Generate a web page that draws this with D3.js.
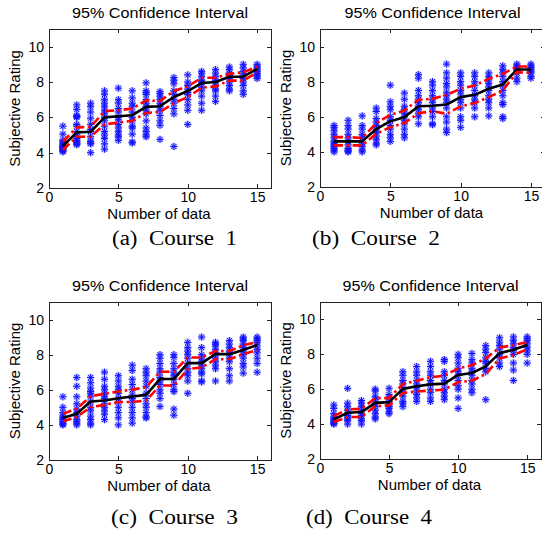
<!DOCTYPE html>
<html>
<head>
<meta charset="utf-8">
<script src="https://cdn.jsdelivr.net/npm/d3@7"></script>
<style>
  html, body { margin: 0; padding: 0; background: #fff; }
  svg { display: block; }
  .sans { font-family: "Liberation Sans", Arial, sans-serif; }
  .serif { font-family: "Liberation Serif", "Times New Roman", serif; white-space: pre; }
</style>
</head>
<body>
<svg id="chart" width="542" height="534"></svg>
<script>
// Number of data points used for each estimate (x axis)
const dataCounts = [1, 2, 3, 4, 5, 6, 7, 8, 9, 10, 11, 12, 13, 14, 15];
const xTicks = [0, 5, 10, 15];
const yTicks = [2, 4, 6, 8, 10];

// Course 1
const course1Mean  = [4.38, 5.15, 5.18, 6.00, 6.06, 6.12, 6.59, 6.63, 7.15, 7.49, 7.94, 8.00, 8.30, 8.30, 8.74];
const course1Upper = [4.62, 5.43, 5.46, 6.35, 6.40, 6.50, 6.96, 6.92, 7.49, 7.75, 8.24, 8.24, 8.46, 8.55, 8.87];
const course1Lower = [4.15, 4.90, 4.90, 5.60, 5.70, 5.80, 6.25, 6.30, 6.80, 7.15, 7.67, 7.75, 8.08, 8.08, 8.55];
const course1Ratings = [
  [5.5, 5.05, 4.7, 4.5, 4.4, 4.3, 4.25, 4.2, 4.15, 4.1, 4.05, 4.35, 4.6],
  [6.7, 6.45, 6.1, 6.0, 5.6, 5.5, 5.2, 5.0, 4.8, 4.6, 4.5, 4.45, 4.55, 4.7, 6.05],
  [6.8, 6.6, 6.3, 5.95, 5.6, 5.3, 5.2, 4.9, 4.65, 4.55, 4.5, 4.0],
  [7.5, 7.3, 7.0, 6.8, 6.6, 6.4, 6.2, 6.0, 5.8, 5.5, 5.2, 5.0, 4.8, 4.5, 4.2],
  [7.65, 7.0, 6.8, 6.5, 6.3, 6.0, 5.85, 5.6, 5.4, 5.2, 5.0, 4.9, 4.7],
  [7.5, 7.1, 6.8, 6.6, 6.3, 6.0, 5.8, 5.5, 5.4, 5.05, 4.55, 4.6],
  [7.95, 7.5, 7.4, 7.3, 7.0, 6.8, 6.6, 6.4, 6.2, 5.8, 5.4, 5.2, 5.0, 4.9],
  [7.45, 7.35, 7.2, 7.0, 6.8, 6.6, 6.4, 6.1, 5.8, 5.55, 4.75],
  [8.25, 8.1, 7.9, 7.5, 7.3, 7.0, 6.8, 6.5, 6.2, 4.35],
  [8.4, 8.0, 7.8, 7.6, 7.4, 7.3, 7.0, 6.7, 6.4, 5.6],
  [8.6, 8.5, 8.3, 8.1, 8.0, 7.9, 7.7, 7.5, 7.2, 6.8, 6.4],
  [8.7, 8.5, 8.3, 8.1, 8.0, 7.8, 7.6, 7.5, 7.2, 6.9],
  [8.85, 8.7, 8.5, 8.4, 8.2, 8.0, 7.8, 7.6, 7.5],
  [9.0, 8.8, 8.6, 8.4, 8.2, 8.0, 7.8, 7.5, 7.3],
  [9.0, 8.9, 8.8, 8.7, 8.6, 8.5, 8.4, 8.3, 8.2]
];

// Course 2
const course2Mean  = [4.60, 4.60, 4.60, 5.30, 5.75, 5.98, 6.60, 6.63, 6.70, 7.12, 7.25, 7.60, 7.84, 8.69, 8.69];
const course2Upper = [4.84, 4.84, 4.79, 5.64, 6.11, 6.36, 6.97, 7.02, 7.25, 7.60, 7.78, 8.16, 8.45, 8.86, 8.86];
const course2Lower = [4.37, 4.37, 4.37, 5.03, 5.41, 5.64, 6.20, 6.32, 6.17, 6.59, 6.78, 7.12, 7.50, 8.54, 8.50];
const course2Ratings = [
  [5.5, 5.4, 5.2, 5.0, 4.8, 4.6, 4.5, 4.4, 4.3, 4.2, 4.1, 4.0],
  [5.8, 5.5, 5.3, 5.0, 4.8, 4.6, 4.4, 4.2, 4.1, 4.05, 4.0],
  [6.05, 5.5, 5.3, 5.0, 4.8, 4.5, 4.3, 4.1, 4.0],
  [6.5, 6.3, 5.9, 5.7, 5.5, 5.3, 5.1, 4.9, 4.7, 4.5, 4.4],
  [7.8, 6.85, 6.6, 6.4, 6.0, 5.8, 5.5, 5.3, 5.0, 4.8, 4.6],
  [7.35, 7.0, 6.6, 6.4, 6.2, 6.0, 5.8, 5.6, 5.3, 5.0, 4.8],
  [8.4, 8.2, 7.5, 7.2, 7.0, 6.8, 6.6, 6.4, 6.2, 6.0, 5.6],
  [8.0, 7.8, 7.5, 7.2, 7.0, 6.8, 6.5, 6.3, 6.0, 5.6, 5.55],
  [9.0, 8.5, 8.2, 7.9, 7.7, 7.4, 7.2, 7.0, 6.8, 6.5, 6.0, 5.7, 5.3, 5.1],
  [8.5, 8.3, 8.0, 7.8, 7.5, 7.3, 7.0, 6.8, 6.5, 6.0, 5.8, 5.4],
  [8.5, 8.3, 8.0, 7.8, 7.5, 7.2, 7.0, 6.8, 6.5, 6.0],
  [8.5, 8.3, 8.1, 7.9, 7.7, 7.5, 7.2, 7.0, 6.8, 6.5, 6.05],
  [8.9, 8.7, 8.5, 8.3, 8.0, 7.8, 7.5, 7.2, 6.8, 6.7, 6.0, 5.9],
  [9.0, 8.9, 8.8, 8.7, 8.6, 8.5, 8.2, 8.0],
  [9.0, 8.9, 8.8, 8.7, 8.6, 8.5, 8.3, 8.2]
];

// Course 3
const course3Mean  = [4.39, 4.64, 5.33, 5.39, 5.52, 5.62, 5.71, 6.61, 6.61, 7.52, 7.52, 8.03, 8.03, 8.27, 8.55];
const course3Upper = [4.64, 4.92, 5.63, 5.77, 5.90, 6.01, 6.14, 7.03, 7.03, 7.84, 7.84, 8.21, 8.21, 8.53, 8.72];
const course3Lower = [4.20, 4.45, 5.01, 5.14, 5.30, 5.30, 5.39, 6.24, 6.24, 7.18, 7.27, 7.74, 7.74, 8.03, 8.27];
const course3Ratings = [
  [5.6, 5.0, 4.7, 4.5, 4.4, 4.3, 4.2, 4.1, 4.05, 4.0],
  [6.7, 6.2, 5.6, 5.2, 4.9, 4.7, 4.5, 4.3, 4.2, 4.1, 4.0],
  [6.7, 6.4, 6.1, 5.9, 5.8, 5.6, 5.3, 5.0, 4.8, 4.5, 4.3, 4.1, 4.0],
  [7.0, 6.6, 6.2, 6.0, 5.8, 5.6, 5.5, 5.2, 5.0, 4.8, 4.6, 4.3],
  [6.8, 6.5, 6.2, 6.0, 5.8, 5.5, 5.3, 5.0, 4.7, 4.4, 4.0],
  [7.4, 7.1, 6.6, 6.3, 6.0, 5.7, 5.5, 5.3, 5.0, 4.7, 4.4, 4.1],
  [7.2, 7.0, 6.8, 6.5, 6.2, 5.8, 5.5, 5.2, 5.0, 4.7, 4.45, 4.4],
  [8.0, 7.8, 7.5, 7.2, 7.0, 6.7, 6.5, 6.3, 6.0, 5.8, 5.5, 5.05],
  [8.0, 7.85, 7.5, 7.2, 7.0, 6.8, 6.6, 6.3, 6.0, 5.9, 4.9, 4.55],
  [8.7, 8.4, 8.2, 8.0, 7.8, 7.5, 7.2, 7.0, 6.8, 6.5, 5.8],
  [9.0, 8.4, 8.0, 7.8, 7.6, 7.4, 7.2, 7.0, 6.9, 6.5, 6.45],
  [8.7, 8.6, 8.5, 8.3, 8.1, 8.0, 7.8, 7.6, 7.4, 7.2, 6.5],
  [8.8, 8.6, 8.4, 8.2, 8.0, 7.8, 7.6, 7.2, 6.8, 6.5],
  [9.0, 8.9, 8.8, 8.6, 8.4, 8.2, 8.0, 7.8, 7.5, 7.3, 6.95],
  [9.0, 8.9, 8.8, 8.7, 8.5, 8.3, 8.1, 7.8, 7.5, 7.0]
];

// Course 4
const course4Mean  = [4.27, 4.65, 4.69, 5.22, 5.26, 6.02, 6.17, 6.28, 6.32, 6.82, 6.93, 7.31, 8.07, 8.26, 8.54];
const course4Upper = [4.46, 4.84, 4.88, 5.49, 5.49, 6.30, 6.49, 6.68, 6.78, 7.19, 7.38, 7.76, 8.39, 8.52, 8.71];
const course4Lower = [4.12, 4.41, 4.41, 5.03, 5.07, 5.79, 5.87, 5.92, 5.98, 6.40, 6.49, 6.87, 7.76, 7.95, 8.29];
const course4Ratings = [
  [5.1, 4.9, 4.6, 4.4, 4.3, 4.2, 4.1, 4.05, 4.0],
  [6.05, 5.2, 5.0, 4.8, 4.6, 4.5, 4.4, 4.3, 4.2, 4.0],
  [5.35, 5.2, 5.0, 4.8, 4.6, 4.5, 4.3, 4.2, 4.0],
  [6.0, 5.9, 5.6, 5.4, 5.2, 5.0, 4.8, 4.6, 4.4, 4.3],
  [6.05, 5.7, 5.5, 5.3, 5.1, 5.0, 4.9, 4.7, 4.6],
  [7.0, 6.8, 6.5, 6.3, 6.0, 5.8, 5.6, 5.3, 5.2, 5.0],
  [7.3, 7.0, 6.8, 6.5, 6.3, 6.1, 5.9, 5.7, 5.5, 5.3],
  [7.6, 7.3, 7.0, 6.8, 6.5, 6.3, 6.0, 5.8, 5.5, 5.3],
  [7.7, 7.6, 7.0, 6.8, 6.5, 6.3, 6.0, 5.8, 5.6, 5.4],
  [8.0, 7.8, 7.5, 7.2, 7.0, 6.8, 6.5, 6.2, 6.0, 5.5, 4.9],
  [8.05, 7.7, 7.5, 7.2, 7.0, 6.8, 6.5, 6.3, 6.0, 5.8],
  [8.5, 8.3, 8.1, 7.8, 7.6, 7.5, 7.2, 7.0, 5.4],
  [8.95, 8.7, 8.5, 8.3, 8.0, 7.8, 7.5, 7.3],
  [9.0, 8.8, 8.6, 8.4, 8.2, 8.0, 7.5, 7.1, 6.5],
  [9.0, 8.9, 8.8, 8.6, 8.4, 8.2, 8.0, 7.5]
];

const captions = ["(a)  Course  1", "(b)  Course  2", "(c)  Course  3", "(d)  Course  4"];
const titleText = "95% Confidence Interval";
const xLabel = "Number of data";
const yLabel = "Subjective Rating";

// Panel frames (plot area in page pixels) and caption placement
const panels = [
  { mean: course1Mean, upper: course1Upper, lower: course1Lower, ratings: course1Ratings,
    left: 49, top: 29, width: 222, height: 159, capX: 112, capY: 245, capLen: 125 },
  { mean: course2Mean, upper: course2Upper, lower: course2Lower, ratings: course2Ratings,
    left: 320, top: 29, width: 225, height: 158, capX: 312, capY: 245, capLen: 128 },
  { mean: course3Mean, upper: course3Upper, lower: course3Lower, ratings: course3Ratings,
    left: 49, top: 302, width: 222, height: 158, capX: 111, capY: 524, capLen: 127 },
  { mean: course4Mean, upper: course4Upper, lower: course4Lower, ratings: course4Ratings,
    left: 320, top: 302, width: 221, height: 157, capX: 306, capY: 524, capLen: 126 }
];

const svg = d3.select("#chart");

// Asterisk marker ("*"): a plus and a cross overlaid
function asterisk(r) {
  const d = r * 0.72;
  return `M${-r},0L${r},0M0,${-r}L0,${r}M${-d},${-d}L${d},${d}M${-d},${d}L${d},${-d}`;
}
const starPath = asterisk(3.6);

panels.forEach((p, i) => {
  const x = d3.scaleLinear().domain([0, 16]).range([0, p.width]);
  const y = d3.scaleLinear().domain([2, 11]).range([p.height, 0]);

  const g = svg.append("g").attr("transform", `translate(${p.left},${p.top})`);

  // clip for the marks
  const clipId = "clip" + i;
  g.append("clipPath").attr("id", clipId)
    .append("rect").attr("width", p.width).attr("height", p.height);
  const plot = g.append("g").attr("clip-path", `url(#${clipId})`);

  // scattered individual ratings
  const pts = [];
  p.ratings.forEach((col, k) => col.forEach(v => pts.push({ n: dataCounts[k], v })));
  const stars = plot.append("g");
  stars.selectAll("path.halo").data(pts).join("path")
    .attr("class", "halo")
    .attr("transform", d => `translate(${x(d.n)},${y(d.v)})`)
    .attr("d", starPath)
    .attr("fill", "none")
    .attr("stroke", "#8c8cff")
    .attr("stroke-opacity", 0.55)
    .attr("stroke-width", 2.4);
  stars.selectAll("path.core").data(pts).join("path")
    .attr("class", "core")
    .attr("transform", d => `translate(${x(d.n)},${y(d.v)})`)
    .attr("d", starPath)
    .attr("fill", "none")
    .attr("stroke", "#1010ff")
    .attr("stroke-width", 1);

  const line = d3.line().x((d, k) => x(dataCounts[k])).y(d => y(d));

  // mean rating
  plot.append("path").datum(p.mean)
    .attr("d", line)
    .attr("fill", "none")
    .attr("stroke", "#000")
    .attr("stroke-width", 2.6)
    .attr("stroke-linejoin", "round");

  // 95% confidence bounds
  [p.upper, p.lower].forEach(b => {
    plot.append("path").datum(b)
      .attr("d", line)
      .attr("fill", "none")
      .attr("stroke", "#ff0000")
      .attr("stroke-width", 2.6)
      .attr("stroke-dasharray", "9,3.5,2.5,3.5");
  });

  // axes: ticks point inward on all four sides
  const fmt = d3.format("d");
  const axB = g.append("g").attr("transform", `translate(0,${p.height})`)
    .call(d3.axisBottom(x).tickValues(xTicks).tickFormat(fmt).tickSizeInner(-4).tickSizeOuter(0).tickPadding(4));
  const axL = g.append("g")
    .call(d3.axisLeft(y).tickValues(yTicks).tickFormat(fmt).tickSizeInner(-4).tickSizeOuter(0).tickPadding(5));
  const axT = g.append("g")
    .call(d3.axisTop(x).tickValues(xTicks).tickFormat("").tickSizeInner(-4).tickSizeOuter(0));
  const axR = g.append("g").attr("transform", `translate(${p.width},0)`)
    .call(d3.axisRight(y).tickValues(yTicks).tickFormat("").tickSizeInner(-4).tickSizeOuter(0));
  [axB, axL, axT, axR].forEach(a => {
    a.select(".domain").attr("stroke", "#222").attr("shape-rendering", "crispEdges");
    a.selectAll(".tick line").attr("stroke", "#222").attr("shape-rendering", "crispEdges");
    a.selectAll("text").attr("class", "sans").attr("font-size", 14).attr("fill", "#000");
  });

  // titles and labels
  g.append("text").attr("class", "sans")
    .attr("x", p.width / 2).attr("y", -11.5)
    .attr("text-anchor", "middle")
    .attr("font-size", 14)
    .attr("textLength", 176).attr("lengthAdjust", "spacingAndGlyphs")
    .text(titleText);
  g.append("text").attr("class", "sans")
    .attr("x", p.width / 2 - 1).attr("y", p.height + 31)
    .attr("text-anchor", "middle")
    .attr("font-size", 15)
    .text(xLabel);
  g.append("text").attr("class", "sans")
    .attr("transform", `translate(-29,${p.height / 2}) rotate(-90)`)
    .attr("text-anchor", "middle")
    .attr("font-size", 15)
    .text(yLabel);

  // sub-figure caption
  svg.append("text").attr("class", "serif")
    .attr("x", p.capX).attr("y", p.capY)
    .attr("font-size", 20)
    .attr("textLength", p.capLen).attr("lengthAdjust", "spacingAndGlyphs")
    .text(captions[i]);
});
</script>
</body>
</html>
